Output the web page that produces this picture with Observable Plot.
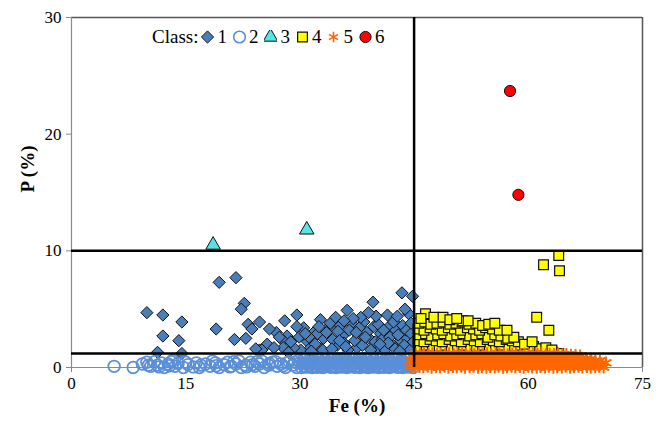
<!DOCTYPE html>
<html>
<head>
<meta charset="utf-8">
<script src="https://cdn.jsdelivr.net/npm/d3@7"></script>
<script src="https://cdn.jsdelivr.net/npm/@observablehq/plot@0.6"></script>
<style>
  html, body { margin: 0; padding: 0; background: #fff; }
  #wrap { position: relative; width: 664px; height: 422px; font-family: "Liberation Serif", "Times New Roman", serif; }
  #legend { position: absolute; left: 152px; top: 27px; display: flex; align-items: center; font-size: 19px; color: #000; line-height: 19px; }
  #legend .lab { margin-right: 3px; }
  #legend .item { display: flex; align-items: center; margin-right: 6px; }
  #legend svg { display: block; margin-right: 3px; }
</style>
</head>
<body>
<div id="wrap"><div id="legend"></div></div>
<script>
// ---- Axis ticks and thresholds ----
const xTicks = [0, 15, 30, 45, 60, 75];
const yTicks = [0, 10, 20, 30];
const feThreshold = [45];
const pThresholds = [10, 1.2];
const classNames = ["1", "2", "3", "4", "5", "6"];

// ---- Class 1 (diamonds): [Fe, P] ----
const class1 = [
 [9.9,4.7],[12.0,4.5],[14.5,3.9],[12.0,2.7],[14.1,2.3],[11.3,1.3],[14.5,1.2],
 [19.4,7.3],[21.6,7.7],[19.0,3.3],[22.7,5.5],[22.3,5.0],[23.2,3.7],[23.7,3.3],[21.4,2.4],[22.9,2.5],[24.7,3.9],[24.7,1.5],
 [25.7,2.0],[25.0,1.5],[26.9,3.0],[28.0,4.0],[29.6,4.5],[28.3,2.7],[27.8,2.3],[27.8,1.7],[29.9,2.6],[32.7,4.1],[31.8,3.0],
 [31.0,2.2],[30.1,1.5],[33.8,3.5],[33.1,2.5],[26.6,1.7],[29.2,1.7],[31.4,1.7],[32.3,2.9],[34.0,3.8],[34.7,4.3],[35.3,3.6],
 [36.2,4.9],[36.9,3.7],[35.6,2.7],[34.9,1.9],[37.7,2.7],[38.4,3.9],[39.6,5.6],[39.7,3.5],[39.1,2.5],[40.6,2.9],[41.5,4.5],
 [41.7,3.5],[42.6,3.2],[43.2,2.3],[43.4,6.4],[44.8,6.1],[44.3,4.6],[44.1,2.5],[42.1,2.0],[40.2,1.7],[37.5,1.7],[32.7,1.6],
 [24.2,1.6],[30.5,3.4],[31.2,2.6],[32.0,2.0],[33.0,1.5],[33.5,3.0],[34.3,2.4],[35.0,3.1],[35.8,2.1],[36.3,1.5],[36.5,3.2],
 [37.2,2.3],[37.8,3.4],[38.2,1.9],[38.8,3.0],[39.3,1.5],[39.9,2.2],[40.3,3.7],[40.8,2.4],[41.2,1.5],[41.0,3.2],[41.8,2.6],
 [42.3,3.9],[42.5,1.6],[42.9,2.8],[43.5,3.6],[43.7,1.9],[44.0,3.2],[44.5,1.5],[44.6,2.9],[38.0,4.3],[37.0,4.2],[35.8,4.0],
 [40.0,4.4],[42.8,4.4],[43.8,5.0],[44.6,3.8],[39.0,4.7],[36.0,1.8],[34.2,1.6],[28.8,2.2],[30.7,2.9],[27.3,2.6],[26.0,3.3],
 [32.5,3.5],[31.5,1.4],[28.5,1.3],[29.6,3.5],[44.9,2.2],[43.1,1.4],[41.6,2.1],[40.5,2.0],[38.6,2.6],[37.4,3.0],[35.2,2.3]
];

// ---- Class 2 (hollow circles): [Fe, P] ----
const class2 = [
 [5.6,0.1],[8.1,0.0],[9.3,0.3],[9.9,0.45],[10.4,0.1],[10.9,0.5],[11.3,0.2],[11.8,0.4],[12.2,0.0],[12.7,0.3],[13.1,0.5],
 [13.6,0.1],[14.0,0.35],[14.7,0.0],[15.3,0.25],[16.0,0.05],[16.8,0.0],[17.6,0.3],[18.2,0.1],[18.9,0.4],[19.4,0.0],[20.0,0.25],
 [20.5,0.45],[21.0,0.1],[21.6,0.3],[22.3,0.0],[22.9,0.2],[23.5,0.45],[24.1,0.1],[24.7,0.3],[25.3,0.0],[25.9,0.2],[26.4,0.45],
 [27.0,0.1],[27.5,0.3],[28.1,0.0],[28.6,0.5],[29.1,0.2],[29.6,0.0],[30.0,0.4],
 [10.1,0.2],[11.5,0.05],[12.9,0.15],[15.0,0.45],[17.0,0.2],[19.0,0.15],[21.3,0.5],[23.0,0.05],[24.4,0.5],[26.0,0.35],[27.8,0.15],[29.3,0.45],
 [13.3,0.6],[16.4,0.4],[18.5,0.55],[20.8,0.05],[22.0,0.55],[23.8,0.25],[25.0,0.55],[26.8,0.5],[28.3,0.4],[29.8,0.6],
 [30.2,0.0],[30.55,0.08],[30.9,0.03],[31.25,0.1],[31.6,0.0],[31.95,0.07],[32.3,0.02],[32.65,0.09],[33.0,0.0],[33.35,0.06],
 [33.7,0.1],[34.05,0.01],[34.4,0.07],[34.75,0.0],[35.1,0.09],[35.45,0.03],[35.8,0.1],[36.15,0.0],[36.5,0.05],[36.85,0.09],
 [37.2,0.02],[37.55,0.07],[37.9,0.0],[38.25,0.1],[38.6,0.04],[38.95,0.0],[39.3,0.08],[39.65,0.03],[40.0,0.1],[40.35,0.0],
 [40.7,0.06],[41.05,0.02],[41.4,0.09],[41.75,0.0],[42.1,0.05],[42.45,0.1],[42.8,0.02],[43.15,0.07],[43.5,0.0],[43.85,0.08],
 [44.2,0.03],[44.55,0.1],[44.9,0.0],
 [30.35,0.4],[30.7,0.36],[31.05,0.44],[31.4,0.38],[31.75,0.45],[32.1,0.35],[32.45,0.41],[32.8,0.37],[33.15,0.44],[33.5,0.35],
 [33.85,0.4],[34.2,0.45],[34.55,0.37],[34.9,0.42],[35.25,0.35],[35.6,0.43],[35.95,0.38],[36.3,0.45],[36.65,0.36],[37.0,0.41],
 [37.35,0.39],[37.7,0.44],[38.05,0.35],[38.4,0.4],[38.75,0.45],[39.1,0.37],[39.45,0.42],[39.8,0.35],[40.15,0.43],[40.5,0.38],
 [40.85,0.45],[41.2,0.36],[41.55,0.41],[41.9,0.39],[42.25,0.44],[42.6,0.35],[42.95,0.4],[43.3,0.45],[43.65,0.37],[44.0,0.42],
 [44.35,0.35],[44.7,0.43],
 [30.5,0.72],[30.9,0.78],[31.3,0.7],[31.7,0.76],[32.1,0.8],[32.5,0.71],[32.9,0.77],[33.3,0.7],[33.7,0.79],[34.1,0.73],
 [34.5,0.8],[34.9,0.7],[35.3,0.75],[35.7,0.79],[36.1,0.72],[36.5,0.78],[36.9,0.7],[37.3,0.8],[37.7,0.74],[38.1,0.7],
 [38.5,0.78],[38.9,0.73],[39.3,0.8],[39.7,0.7],[40.1,0.76],[40.5,0.72],[40.9,0.79],[41.3,0.7],[41.7,0.75],[42.1,0.8],
 [42.5,0.72],[42.9,0.77],[43.3,0.7],[43.7,0.78],[44.1,0.73],[44.5,0.8]
];

// ---- Class 3 (triangles): [Fe, P] ----
const class3 = [[18.6,10.5],[30.9,11.8]];

// ---- Class 4 (squares): [Fe, P] ----
const class4 = [
 [45.6,1.3],[46.4,1.2],[47.2,1.4],[48.0,1.2],[48.8,1.3],[49.6,1.4],[50.4,1.2],[51.2,1.3],[52.0,1.4],[52.8,1.2],[53.6,1.3],
 [54.4,1.2],[55.2,1.4],[56.0,1.3],[56.8,1.2],[57.6,1.4],[58.4,1.3],[59.2,1.2],[60.0,1.3],[60.8,1.2],[61.6,1.3],[62.4,1.2],
 [63.2,1.3],[64.0,1.2],
 [45.8,1.8],[46.6,1.9],[47.4,1.7],[48.3,1.8],[49.1,1.9],[49.9,1.7],[50.7,1.8],[51.5,1.9],[52.4,1.7],[53.2,1.8],[54.0,1.9],
 [54.9,1.7],[55.7,1.8],[56.5,1.9],[57.4,1.7],[58.2,1.8],[59.0,1.9],[59.8,1.7],[60.7,1.8],[61.5,1.6],[62.3,1.7],[63.1,1.5],
 [45.5,2.3],[46.3,2.2],[47.1,2.4],[47.9,2.3],[48.7,2.2],[49.6,2.4],[50.4,2.3],[51.2,2.2],[52.1,2.4],[52.9,2.3],[53.7,2.2],
 [54.6,2.4],[55.4,2.3],[56.2,2.2],[57.1,2.4],[57.9,2.3],[58.7,2.2],[59.5,2.0],[60.5,2.2],
 [45.7,2.8],[46.5,2.9],[47.3,2.7],[48.1,2.8],[48.9,2.9],[49.8,2.7],[50.6,2.8],[51.4,2.9],[52.3,2.7],[53.1,2.8],[53.9,2.9],
 [54.7,2.6],[55.6,2.8],[56.4,2.7],[57.3,2.5],[58.1,2.6],
 [45.5,3.3],[46.3,3.2],[47.1,3.4],[47.9,3.3],[48.7,3.2],[49.5,3.4],[50.3,3.3],[51.1,3.2],[52.0,3.4],[52.8,3.3],[53.6,3.2],
 [54.4,3.4],[55.3,3.3],[56.2,3.2],[57.2,3.2],
 [45.6,3.8],[46.4,3.9],[47.2,3.7],[48.0,3.8],[48.8,3.9],[49.7,3.7],[50.5,3.8],[51.3,3.9],[52.2,3.7],[53.1,3.8],[54.0,3.6],
 [54.8,3.7],[55.6,3.8],
 [46.5,4.6],[47.6,4.3],[48.8,4.3],[45.9,4.2],[49.7,4.1],[51.4,4.0],[52.1,4.0],[50.6,4.2],
 [64.0,9.6],[62.0,8.8],[64.1,8.3],[61.1,4.3],[62.7,3.2]
];

// ---- Class 5 (asterisks): [Fe, P] ----
const class5 = [
 [44.5,0.05],[45.1,0.0],[45.7,0.08],[46.2,0.02],[46.8,0.1],[47.3,0.0],[47.9,0.06],[48.4,0.03],[49.0,0.1],[49.5,0.0],[50.1,0.07],
 [50.6,0.02],[51.2,0.09],[51.7,0.0],[52.3,0.05],[52.8,0.1],[53.4,0.01],[53.9,0.06],[54.5,0.0],[55.0,0.08],[55.6,0.03],[56.1,0.1],
 [56.7,0.0],[57.2,0.05],[57.8,0.09],[58.3,0.02],[58.9,0.07],[59.4,0.0],[60.0,0.1],[60.5,0.04],[61.1,0.0],[61.6,0.08],[62.2,0.03],
 [62.7,0.1],[63.3,0.0],[63.8,0.06],[64.4,0.02],[64.9,0.09],[65.5,0.0],[66.0,0.05],[66.6,0.1],[67.1,0.02],[67.7,0.07],[68.2,0.0],
 [68.8,0.05],[69.3,0.1],[69.9,0.02],
 [44.8,0.3],[45.4,0.26],[46.0,0.33],[46.5,0.28],[47.1,0.35],[47.6,0.25],[48.2,0.31],[48.7,0.27],[49.3,0.34],[49.8,0.25],[50.4,0.3],
 [50.9,0.35],[51.5,0.27],[52.0,0.32],[52.6,0.25],[53.1,0.33],[53.7,0.28],[54.2,0.35],[54.8,0.26],[55.3,0.31],[55.9,0.29],[56.4,0.34],
 [57.0,0.25],[57.5,0.3],[58.1,0.35],[58.6,0.27],[59.2,0.32],[59.7,0.25],[60.3,0.33],[60.8,0.28],[61.4,0.35],[61.9,0.26],[62.5,0.31],
 [63.0,0.29],[63.6,0.34],[64.1,0.25],[64.7,0.3],[65.2,0.35],[65.8,0.27],[66.3,0.32],[66.9,0.25],[67.4,0.33],[68.0,0.28],[68.5,0.3],
 [69.1,0.26],[69.6,0.34],[70.2,0.4],
 [44.6,0.6],[45.2,0.55],[45.7,0.63],[46.3,0.57],[46.8,0.65],[47.4,0.55],[47.9,0.61],[48.5,0.58],[49.0,0.65],[49.6,0.55],[50.1,0.62],
 [50.7,0.57],[51.2,0.64],[51.8,0.55],[52.3,0.6],[52.9,0.65],[53.4,0.56],[54.0,0.61],[54.5,0.55],[55.1,0.63],[55.6,0.58],[56.2,0.65],
 [56.7,0.55],[57.3,0.6],[57.8,0.64],[58.4,0.57],[58.9,0.62],[59.5,0.55],[60.0,0.65],[60.6,0.59],[61.1,0.55],[61.7,0.63],[62.2,0.58],
 [62.8,0.65],[63.3,0.55],[63.9,0.61],[64.4,0.57],[65.0,0.64],[65.5,0.55],[66.1,0.6],[66.6,0.65],[67.2,0.57],[67.7,0.62],[68.3,0.55],
 [68.8,0.6],[69.4,0.57],
 [45.0,0.9],[45.5,0.86],[46.1,0.93],[46.6,0.88],[47.2,0.95],[47.7,0.85],[48.3,0.91],[48.8,0.87],[49.4,0.94],[49.9,0.85],[50.5,0.9],
 [51.0,0.95],[51.6,0.87],[52.1,0.92],[52.7,0.85],[53.2,0.93],[53.8,0.88],[54.3,0.95],[54.9,0.86],[55.4,0.91],[56.0,0.89],[56.5,0.94],
 [57.1,0.85],[57.6,0.9],[58.2,0.95],[58.7,0.87],[59.3,0.92],[59.8,0.85],[60.4,0.93],[60.9,0.88],[61.5,0.95],[62.0,0.86],[62.6,0.91],
 [63.1,0.89],[63.7,0.94],[64.2,0.85],[64.8,0.9],[65.3,0.88],[65.9,0.86],[66.4,0.82],[67.0,0.8],[67.6,0.76],[68.2,0.72],
 [45.2,1.15],[45.8,1.12],[46.3,1.18],[46.9,1.13],[47.4,1.2],[48.0,1.11],[48.5,1.16],[49.1,1.12],[49.6,1.19],[50.2,1.11],[50.7,1.15],
 [51.3,1.2],[51.8,1.12],[52.4,1.17],[52.9,1.11],[53.5,1.18],[54.0,1.13],[54.6,1.2],[55.1,1.11],[55.7,1.16],[56.2,1.14],[56.8,1.19],
 [57.3,1.11],[57.9,1.15],[58.4,1.2],[59.0,1.12],[59.5,1.17],[60.1,1.11],[60.6,1.18],[61.2,1.13],[61.7,1.19],[62.3,1.11],[62.8,1.15],
 [63.4,1.13],[63.9,1.17],[64.5,1.1],[65.0,1.12],[65.6,1.07],[66.2,1.05],[66.8,1.0]
];

// ---- Class 6 (red circles): [Fe, P] ----
const class6 = [[57.6,23.7],[58.7,14.8]];

// ---- Styles per class ----
const styles = {
  "1": {symbol: "diamond2", r: 5.5, fill: "#4a7ebb", stroke: "#111", strokeWidth: 1},
  "2": {symbol: "circle", r: 5.8, fill: "none", stroke: "#5a8fd8", strokeWidth: 1.8},
  "3": {symbol: "triangle", r: 5.4, fill: "#55e3e3", stroke: "#111", strokeWidth: 1},
  "4": {symbol: "square", r: 5.5, fill: "#ffff00", stroke: "#111", strokeWidth: 1.2},
  "5": {symbol: "asterisk", r: 6, fill: "none", stroke: "#ff6600", strokeWidth: 2},
  "6": {symbol: "circle", r: 5.6, fill: "#ff0000", stroke: "#111", strokeWidth: 1}
};

function dotMark(data, cls) {
  const s = styles[cls];
  return Plot.dot(data, {x: d => d[0], y: d => d[1], symbol: () => s.symbol, r: s.r,
    fill: s.fill, stroke: s.stroke, strokeWidth: s.strokeWidth});
}

const chart = Plot.plot({
  width: 664,
  height: 422,
  marginLeft: 71,
  marginRight: 22,
  marginTop: 17,
  marginBottom: 55,
  style: {fontFamily: "'Liberation Serif', 'Times New Roman', serif", fontSize: "17px", background: "white", color: "#000", overflow: "visible"},
  x: {domain: [0, 75], ticks: xTicks, label: null},
  y: {domain: [0, 30], ticks: yTicks, label: null},
  symbol: {type: "identity"},
  marks: [
    Plot.ruleY([30], {stroke: "#555", strokeWidth: 1.5}),
    Plot.ruleX([75], {stroke: "#555", strokeWidth: 1.5}),
    Plot.ruleX([0], {stroke: "#8a8a8a", strokeWidth: 1.2}),
    Plot.ruleY([0], {stroke: "#8a8a8a", strokeWidth: 1.2}),
    Plot.axisX({ticks: xTicks, tickSize: 5, tickPadding: 4, stroke: "#8a8a8a", fontSize: 17, label: null}),
    Plot.axisY({ticks: yTicks, tickSize: 5, tickPadding: 5, stroke: "#8a8a8a", fontSize: 17, label: null}),
    dotMark(class1, "1"),
    dotMark(class2, "2"),
    dotMark(class3, "3"),
    dotMark(class4, "4"),
    dotMark(class5, "5"),
    dotMark(class6, "6"),
    Plot.ruleX(feThreshold, {stroke: "#000", strokeWidth: 2.5}),
    Plot.ruleY(pThresholds, {stroke: "#000", strokeWidth: 2.5}),
    Plot.text(["Fe (%)"], {frameAnchor: "bottom", dy: 44, fontWeight: "bold", fontSize: 19, text: d => d}),
    Plot.text(["P (%)"], {frameAnchor: "left", dx: -44, rotate: -90, fontWeight: "bold", fontSize: 19, text: d => d})
  ]
});
document.getElementById("wrap").appendChild(chart);

// ---- Legend (HTML overlay inside plot area) ----
const legend = document.getElementById("legend");
const lab = document.createElement("span");
lab.className = "lab";
lab.textContent = "Class:";
legend.appendChild(lab);
const symMap = {circle: d3.symbolCircle, diamond2: d3.symbolDiamond2, triangle: d3.symbolTriangle, square: d3.symbolSquare, asterisk: d3.symbolAsterisk};
classNames.forEach(c => {
  const s = styles[c];
  const item = document.createElement("span");
  item.className = "item";
  const svg = d3.create("svg").attr("width", 13).attr("height", 14).attr("viewBox", "-6.5 -7 13 14");
  const r = c === "5" ? 5 : s.r;
  svg.append("path")
    .attr("d", d3.symbol(symMap[s.symbol], Math.PI * r * r)())
    .attr("fill", s.fill).attr("stroke", s.stroke).attr("stroke-width", Math.min(s.strokeWidth, 1.6));
  item.appendChild(svg.node());
  const t = document.createElement("span");
  t.textContent = c;
  item.appendChild(t);
  legend.appendChild(item);
});
</script>
</body>
</html>
